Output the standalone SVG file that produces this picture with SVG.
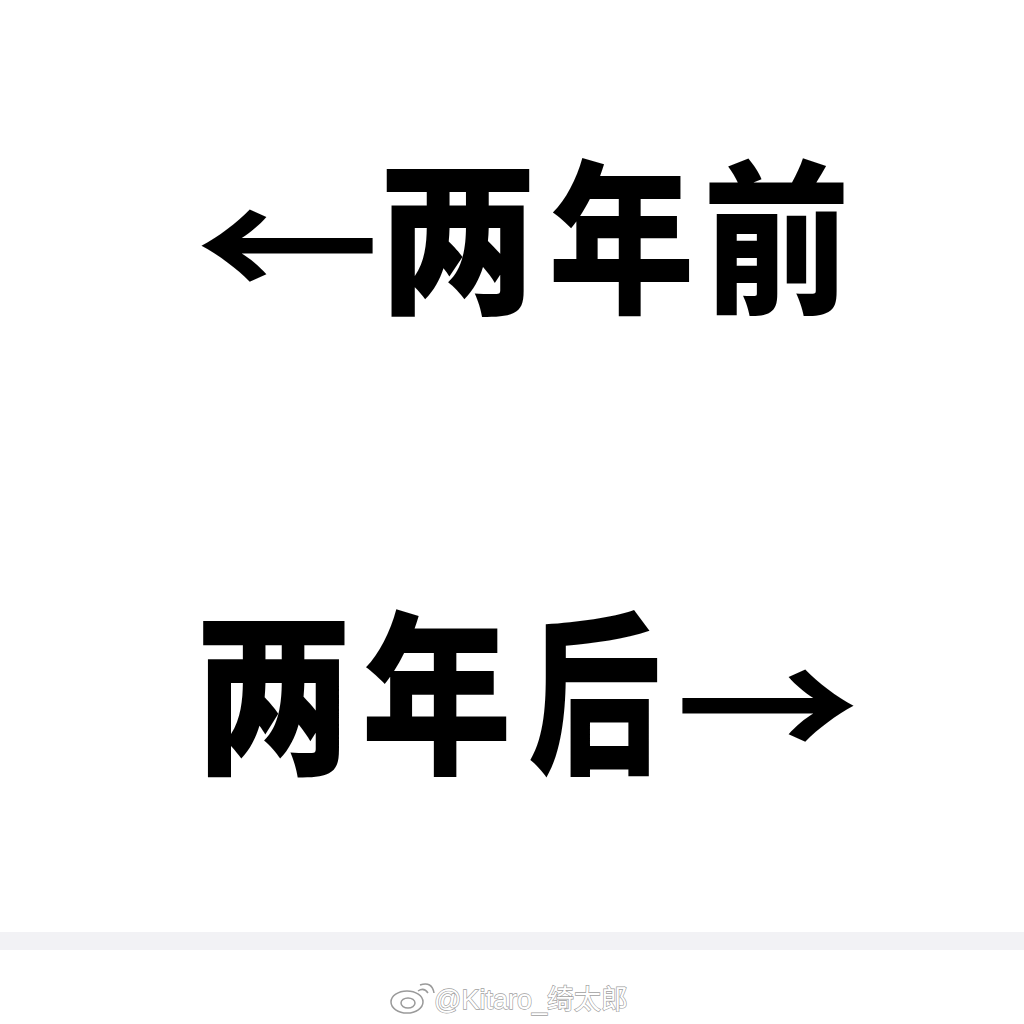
<svg xmlns="http://www.w3.org/2000/svg" width="1024" height="1024" viewBox="0 0 1024 1024">
<defs>
<style>
.big{font-family:"Noto Sans CJK SC","Noto Sans",sans-serif;font-weight:900;font-size:165px;fill:#000}
.arr{font-family:"Noto Sans CJK SC","DejaVu Sans",sans-serif;font-weight:700;font-size:185px;fill:#000}
.wm{font-family:"Liberation Sans","Noto Sans CJK SC",sans-serif;font-size:27px;fill:#fff;stroke:#a0a0a0;stroke-width:1.3;paint-order:stroke}
</style>
</defs>
<rect width="1024" height="1024" fill="#fff"/>
<rect x="0" y="932" width="1024" height="18" fill="#f2f2f5"/>
<g id="line-before">
<text class="arr" transform="translate(195,303.4) scale(1,0.82)">←</text>
<text class="big" transform="translate(378,300) scale(0.966,1)">两</text>
<text class="big" transform="translate(548.6,300) scale(0.884,1)">年</text>
<text class="big" transform="translate(703.5,300) scale(0.884,1)">前</text>
</g>
<g id="line-after">
<text class="big" transform="translate(194.5,760) scale(0.958,1.06)">两</text>
<text class="big" transform="translate(361.5,760) scale(0.91,1.06)">年</text>
<text class="big" transform="translate(528.6,760) scale(0.8,1.06)">后</text>
<text class="arr" transform="translate(675,763.4) scale(1,0.82)">→</text>
</g>
<g id="watermark">
<g fill="none" stroke="#9a9a9a" stroke-width="1.5">
<ellipse cx="407" cy="1002" rx="16" ry="11"/>
<ellipse cx="408" cy="1003" rx="7" ry="5"/>
<path d="M418 991 q6 -4 10 2"/>
<path d="M420 985 q12 -4 14 8"/>
</g>
<text class="wm" x="434" y="1009">@Kitaro_绮太郎</text>
</g>
</svg>
